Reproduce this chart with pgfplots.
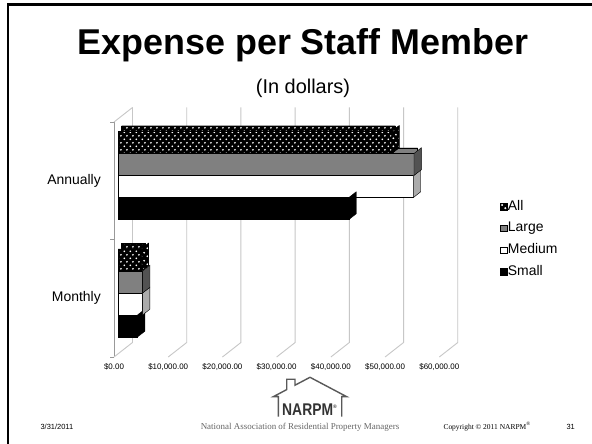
\documentclass[border=0pt]{standalone}
\usepackage{fontspec}
\setmainfont{Liberation Sans}
\newfontfamily\timesfont{Liberation Serif}
\usepackage{pgfplots}
\pgfplotsset{compat=1.18}
\usetikzlibrary{patterns.meta}

\tikzdeclarepattern{
  name=bigdots,
  type=uncolored,
  bounding box={(0bp,0bp) and (5.6bp,7.4bp)},
  tile size={(5.6bp,7.4bp)},
  code={
    \fill (1.4bp,1.85bp) circle (1.0bp);
    \fill (4.2bp,5.55bp) circle (1.0bp);
  }
}

% side faces of the 3-D bars (drawn as marks at the bar ends)
\pgfdeclareplotmark{sideSmall}{\filldraw[fill=black, draw=black, line width=0.4bp] (0bp,-11bp) -- (7.3bp,-5.3bp) -- (7.3bp,16.7bp) -- (0bp,11bp) -- cycle;}
\pgfdeclareplotmark{sideMedium}{\filldraw[fill=black!33, draw=black, line width=0.4bp] (0bp,-11bp) -- (7.3bp,-5.3bp) -- (7.3bp,16.7bp) -- (0bp,11bp) -- cycle;}
\pgfdeclareplotmark{sideLarge}{\filldraw[fill=black!68, draw=black, line width=0.4bp] (0bp,-11bp) -- (7.3bp,-5.3bp) -- (7.3bp,16.7bp) -- (0bp,11bp) -- cycle;}
\pgfdeclareplotmark{sideAll}{\fill[black] (0bp,-11bp) -- (7.3bp,-5.3bp) -- (7.3bp,16.7bp) -- (0bp,11bp) -- cycle;
  \fill[pattern=bigdots, pattern color=white] (0bp,-11bp) -- (7.3bp,-5.3bp) -- (7.3bp,16.7bp) -- (0bp,11bp) -- cycle;
  \draw[black, line width=0.4bp] (0bp,-11bp) -- (7.3bp,-5.3bp) -- (7.3bp,16.7bp) -- (0bp,11bp) -- cycle;}

\begin{document}
\begin{tikzpicture}
\fill[white] (0bp,0bp) rectangle (592bp,444bp);
\path[use as bounding box] (0bp,0bp) rectangle (592bp,444bp);
% slide frame
\draw[line width=2.8bp] (8bp,-2bp) -- (8bp,439.5bp) -- (594bp,439.5bp);

% title
\node[anchor=base, font={\bfseries\fontsize{36}{40}\selectfont}] at (303bp,389bp) {Expense per Staff Member};
\node[anchor=base, font={\fontsize{20}{24}\selectfont}] at (303bp,350bp) {(In dollars)};

\begin{axis}[
  at={(114bp,87bp)}, anchor=south west,
  scale only axis, width=325.3bp, height=235bp,
  xmin=0, xmax=60000, ymin=-0.5, ymax=1.5,
  clip=false,
  axis lines*=left,
  x axis line style={draw=none},
  y axis line style={draw=black!40, line width=0.7bp},
  scaled x ticks=false,
  xtick={0,10000,20000,30000,40000,50000,60000},
  xticklabels={\$0.00,{\$10,000.00},{\$20,000.00},{\$30,000.00},{\$40,000.00},{\$50,000.00},{\$60,000.00}},
  xticklabel style={font={\fontsize{8}{8}\selectfont}, yshift=-3bp},
  ytick={0,1}, yticklabels={Monthly,Annually},
  yticklabel style={font={\fontsize{14}{14}\selectfont}, anchor=east, inner sep=0pt, xshift=-13bp},
  minor ytick={-0.5,0.5,1.5},
  major tick length=0pt, minor tick length=4bp, tick align=outside,
  minor tick style={draw=black!40, line width=0.7bp},
  xtick style={draw=none},
  legend style={at={(axis description cs:1.187,0.672)}, anchor=north west, draw=none, fill=none,
    inner sep=0pt, row sep=7.1bp, font={\fontsize{14}{14}\selectfont},
    nodes={inner sep=0.8bp, text height=10bp, text depth=3bp}},
  legend cell align=left,
]
% back wall gridlines and floor diagonals
\pgfplotsinvokeforeach{0,10000,20000,30000,40000,50000,60000}{
  \draw[black!22, line width=0.9bp] (axis cs:#1,-0.5) -- ++(18.5bp,14.5bp) -- ++(0bp,235bp);
}
\draw[black!22, line width=0.9bp] (axis cs:0,1.5) -- ++(18.5bp,14.5bp);

% ---- Small ----
\addplot[xbar, bar width=5.7bp, bar shift=-13.85bp, xshift=7.65bp, fill=black, draw=black, line width=0.4bp, forget plot]
  coordinates {(42600,1) (3600,0)};
\addplot[only marks, mark=sideSmall, mark options={xshift=4bp, yshift=-27.7bp}, forget plot]
  coordinates {(42600,1) (3600,0)};
\addplot[xbar, bar width=22bp, bar shift=-27.7bp, xshift=4bp, fill=black, draw=black, line width=0.4bp, forget plot]
  coordinates {(42600,1) (3600,0)};
% ---- Medium ----
\addplot[xbar, bar width=5.7bp, bar shift=8.15bp, xshift=7.65bp, fill=white, draw=black, line width=0.4bp, forget plot]
  coordinates {(54500,1) (4540,0)};
\addplot[only marks, mark=sideMedium, mark options={xshift=4bp, yshift=-5.7bp}, forget plot]
  coordinates {(54500,1) (4540,0)};
\addplot[xbar, bar width=22bp, bar shift=-5.7bp, xshift=4bp, fill=white, draw=black, line width=0.4bp, forget plot]
  coordinates {(54500,1) (4540,0)};
% ---- Large ----
\addplot[xbar, bar width=5.7bp, bar shift=30.15bp, xshift=7.65bp, fill=black!50, draw=black, line width=0.4bp, forget plot]
  coordinates {(54600,1) (4550,0)};
\addplot[only marks, mark=sideLarge, mark options={xshift=4bp, yshift=16.3bp}, forget plot]
  coordinates {(54600,1) (4550,0)};
\addplot[xbar, bar width=22bp, bar shift=16.3bp, xshift=4bp, fill=black!50, draw=black, line width=0.4bp, forget plot]
  coordinates {(54600,1) (4550,0)};
% ---- All ----
\addplot[xbar, bar width=5.7bp, bar shift=52.15bp, xshift=7.65bp, fill=black, draw=black, line width=0.4bp,
  postaction={pattern=bigdots, pattern color=white}, forget plot]
  coordinates {(50500,1) (4300,0)};
\addplot[only marks, mark=sideAll, mark options={xshift=4bp, yshift=38.3bp}, forget plot]
  coordinates {(50500,1) (4300,0)};
\addplot[xbar, bar width=22bp, bar shift=38.3bp, xshift=4bp, fill=black, draw=black, line width=0.4bp,
  postaction={pattern=bigdots, pattern color=white}, forget plot]
  coordinates {(50500,1) (4300,0)};

% legend
\addlegendimage{legend image code/.code={\fill[black] (0bp,-3.2bp) rectangle (6.4bp,3.2bp);
  \fill[white] (1.6bp,1.6bp) circle (0.8bp); \fill[white] (4.8bp,-1.6bp) circle (0.8bp);}}
\addlegendentry{All}
\addlegendimage{legend image code/.code={\filldraw[fill=black!50, draw=black, line width=0.4bp] (0bp,-3.2bp) rectangle (6.4bp,3.2bp);}}
\addlegendentry{Large}
\addlegendimage{legend image code/.code={\filldraw[fill=white, draw=black, line width=0.4bp] (0bp,-3.2bp) rectangle (6.4bp,3.2bp);}}
\addlegendentry{Medium}
\addlegendimage{legend image code/.code={\fill[black] (0bp,-3.2bp) rectangle (6.4bp,3.2bp);}}
\addlegendentry{Small}
\end{axis}

% footer
\node[anchor=base west, font={\fontsize{7.5}{8}\selectfont}] at (37bp,15bp) {3/31/2011};
\node[anchor=base, font={\timesfont\fontsize{9}{10}\selectfont}, text=black!60] at (300bp,15bp) {National Association of Residential Property Managers};
\node[anchor=base west, font={\timesfont\fontsize{7.5}{8}\selectfont}] at (440bp,15bp) {Copyright © 2011 NARPM\textsuperscript{®}};
\node[anchor=base west, font={\fontsize{7.5}{8}\selectfont}] at (563bp,15bp) {31};
% NARPM logo
\draw[black!65, line width=1.4bp, line join=miter]
  (278.3bp,27.3bp) -- (278.3bp,47.3bp) -- (273.3bp,47.3bp) -- (286.7bp,54.4bp) -- (286.7bp,64.7bp)
  -- (295bp,64.7bp) -- (295bp,58.8bp) -- (310bp,66.7bp) -- (346.7bp,47.3bp) -- (341.7bp,47.3bp) -- (341.7bp,27.3bp);
\node[anchor=base west, inner sep=0pt, font={\bfseries\fontsize{17}{17}\selectfont}, text=black!80] at (282bp,29bp)
  {\scalebox{0.82}[1]{NARPM}\textsuperscript{\fontsize{5}{5}\selectfont ®}};
\end{tikzpicture}
\end{document}
